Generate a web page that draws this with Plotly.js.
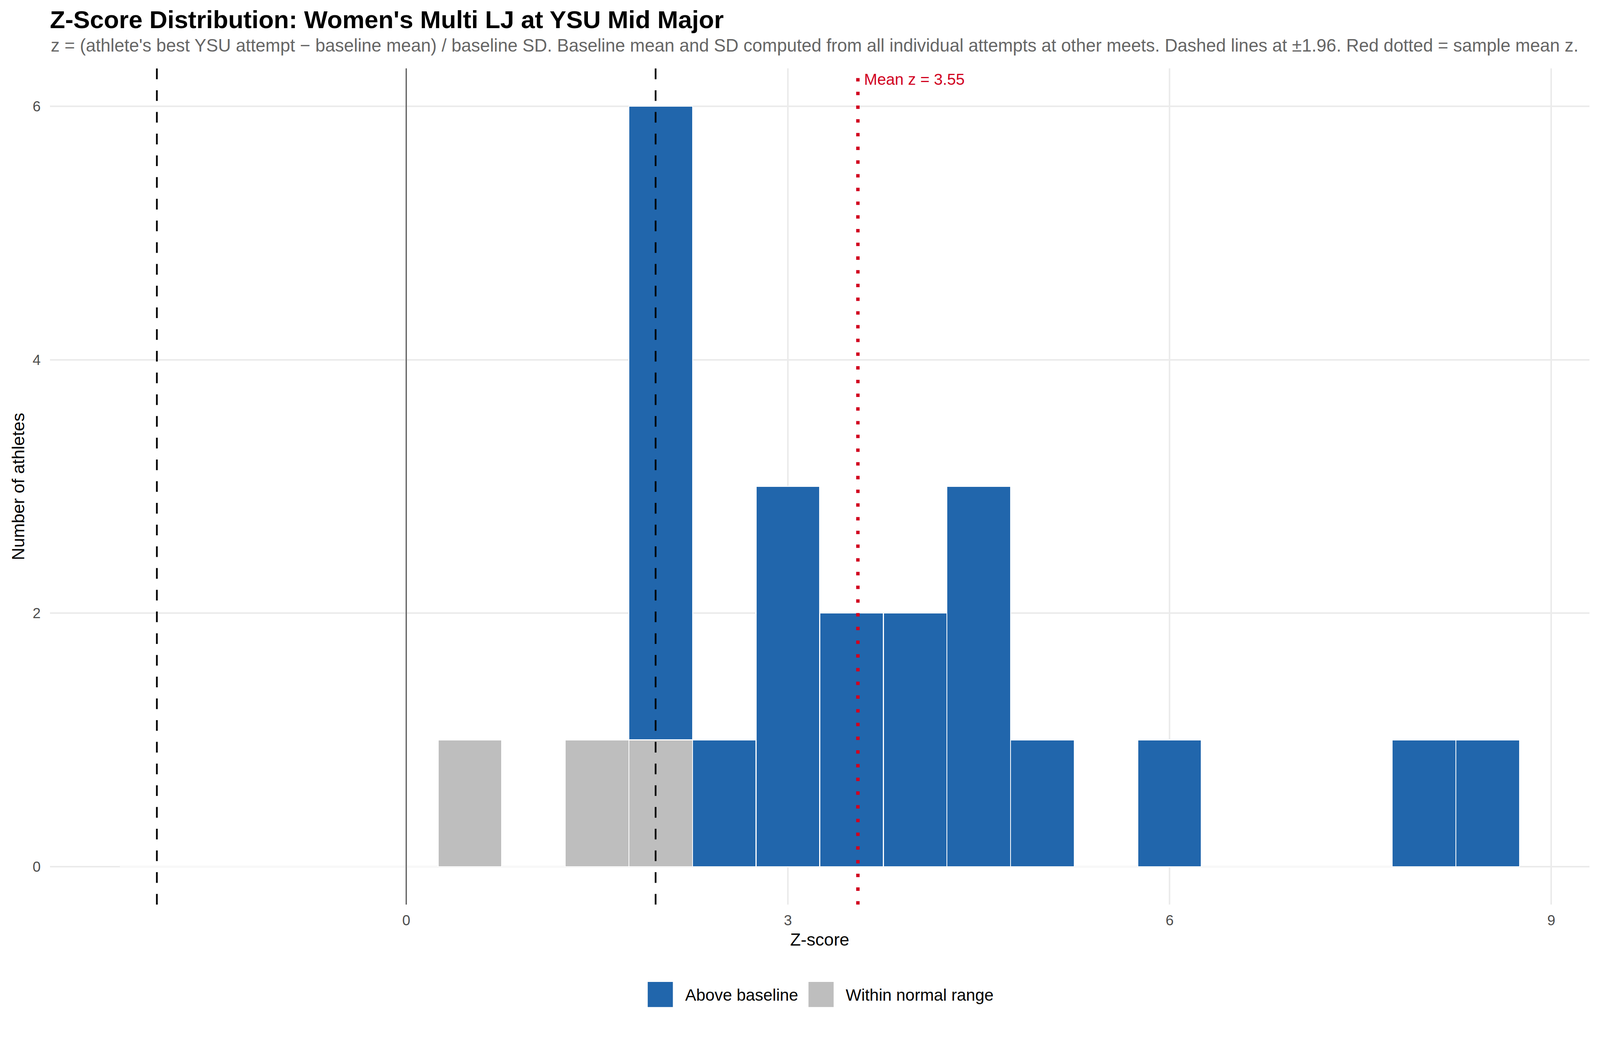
<!DOCTYPE html>
<html>
<head>
<meta charset="utf-8">
<script src="https://cdn.plot.ly/plotly-3.0.1.min.js"></script>
<style>html,body{margin:0;padding:0;background:#fff;overflow:hidden;}</style>
</head>
<body>
<div id="chart"></div>
<script>
// ---- data ----
const binCenters = [-2.0,-1.5,-1.0,-0.5,0.0,0.5,1.0,1.5,2.0,2.5,3.0,3.5,4.0,4.5,5.0,5.5,6.0,6.5,7.0,7.5,8.0,8.5];
const withinCounts = [0,0,0,0,0,1,0,1,1,0,0,0,0,0,0,0,0,0,0,0,0,0];
const aboveCounts  = [0,0,0,0,0,0,0,0,5,1,3,2,2,3,1,0,1,0,0,0,1,1];
const binWidth = 0.5;
const thresholds = [-1.96, 1.96];
const meanZ = 3.55;
const seriesNames = ["Above baseline", "Within normal range"];
const seriesColors = ["#2166AC", "#BEBEBE"];
const xTicks = [0, 3, 6, 9];
const yTicks = [0, 2, 4, 6];

const FONT = "Liberation Sans, Arial, Helvetica, sans-serif";

// scale everything to the actual viewport (design is 4200 x 2700)
const VW = window.innerWidth || 4200, VH = window.innerHeight || 2700;
const k = Math.min(VW / 4200, VH / 2700);
const s = v => v * k;
const si = v => Math.round(v * k);
const chartDiv = document.getElementById('chart');
chartDiv.style.width = s(4200) + 'px';
chartDiv.style.height = s(2700) + 'px';

const traces = [
  {type:'bar', name: seriesNames[1], x: binCenters, y: withinCounts, width: binWidth,
   marker:{color: seriesColors[1], line:{color:'#FFFFFF', width:s(2.5)}}, showlegend:false, hoverinfo:'skip'},
  {type:'bar', name: seriesNames[0], x: binCenters, y: aboveCounts, width: binWidth,
   marker:{color: seriesColors[0], line:{color:'#FFFFFF', width:s(2.5)}}, showlegend:false, hoverinfo:'skip'}
];

const shapes = [];
// zero reference line (solid)
shapes.push({type:'line', xref:'x', yref:'paper', x0:0, x1:0, y0:0, y1:1, line:{color:'#555555', width:s(3)}, layer:'above'});
thresholds.forEach(t => shapes.push({type:'line', xref:'x', yref:'paper', x0:t, x1:t, y0:0, y1:1,
  line:{color:'#000000', width:s(4.5), dash: s(28)+'px,'+s(29)+'px'}, layer:'above'}));
shapes.push({type:'line', xref:'x', yref:'paper', x0:meanZ, x1:meanZ, y0:0, y1:1,
  line:{color:'#D1001F', width:s(9), dash: s(9)+'px,'+s(27)+'px'}, layer:'above'});

// custom legend (design-pixel layout -> paper coords)
const L = 131, R = 4172, T = 179, B = 2374;
const px = v => (v - L) / (R - L);
const py = v => (B - v) / (B - T);
const keyStarts = [1700, 2122];
const textStarts = [1796, 2218];
const annotations = [];
seriesNames.forEach((nm, i) => {
  shapes.push({type:'rect', xref:'paper', yref:'paper', x0:px(keyStarts[i]), x1:px(keyStarts[i]+66),
    y0:py(2577), y1:py(2643), fillcolor: seriesColors[i], line:{width:0}});
  annotations.push({xref:'paper', yref:'paper', x:px(textStarts[i]), y:py(2611), xanchor:'left', yanchor:'middle',
    text: nm, showarrow:false, font:{family:FONT, size:s(43.4), color:'#000000'}});
});

annotations.push({xref:'paper', yref:'paper', x:0, y:py(119), xanchor:'left', yanchor:'middle', showarrow:false,
  text:"z = (athlete's best YSU attempt \u2212 baseline mean) / baseline SD. Baseline mean and SD computed from all individual attempts at other meets. Dashed lines at \u00b11.96. Red dotted = sample mean z.",
  font:{family:FONT, size:s(46.6), color:'#666666'}});
annotations.push({xref:'x', yref:'paper', x:meanZ, xshift:s(14), y:py(208), xanchor:'left', yanchor:'middle', showarrow:false,
  text:'Mean z = ' + meanZ.toFixed(2), font:{family:FONT, size:s(41.5), color:'#D1001F'}});

const layout = {
  width:s(4200), height:s(2700),
  paper_bgcolor:'#FFFFFF', plot_bgcolor:'#FFFFFF',
  margin:{l:s(L), r:s(4200-R), t:s(T), b:s(2700-B), pad:0},
  barmode:'stack', bargap:0,
  font:{family:FONT, color:'#000000'},
  title:{text:"<b>Z-Score Distribution: Women's Multi LJ at YSU Mid Major</b>", xref:'container', yref:'container',
    x:131/4200, xanchor:'left', y:1-51/2700, yanchor:'middle', font:{family:FONT, size:s(65.3), color:'#000000'}},
  xaxis:{range:[-2.8, 9.3], tickvals:xTicks, ticktext:xTicks.map(String), showgrid:true, gridcolor:'#EBEBEB', gridwidth:s(4.5),
    zeroline:false, showline:false, ticks:'', ticklabelstandoff:si(15), tickfont:{family:FONT, size:s(38), color:'#4D4D4D'},
    title:{text:'Z-score', font:{family:FONT, size:s(45.8), color:'#000000'}, standoff:s(14)}},
  yaxis:{range:[-0.3, 6.3], tickvals:yTicks, ticktext:yTicks.map(String), showgrid:true, gridcolor:'#EBEBEB', gridwidth:s(4.5),
    zeroline:false, showline:false, ticks:'', ticklabelstandoff:si(24), tickfont:{family:FONT, size:s(38), color:'#4D4D4D'},
    title:{text:'Number of athletes', font:{family:FONT, size:s(45.8), color:'#000000'}, standoff:s(6)}},
  shapes: shapes,
  annotations: annotations,
  showlegend:false
};

Plotly.newPlot('chart', traces, layout, {staticPlot:true, displayModeBar:false});
</script>
</body>
</html>
